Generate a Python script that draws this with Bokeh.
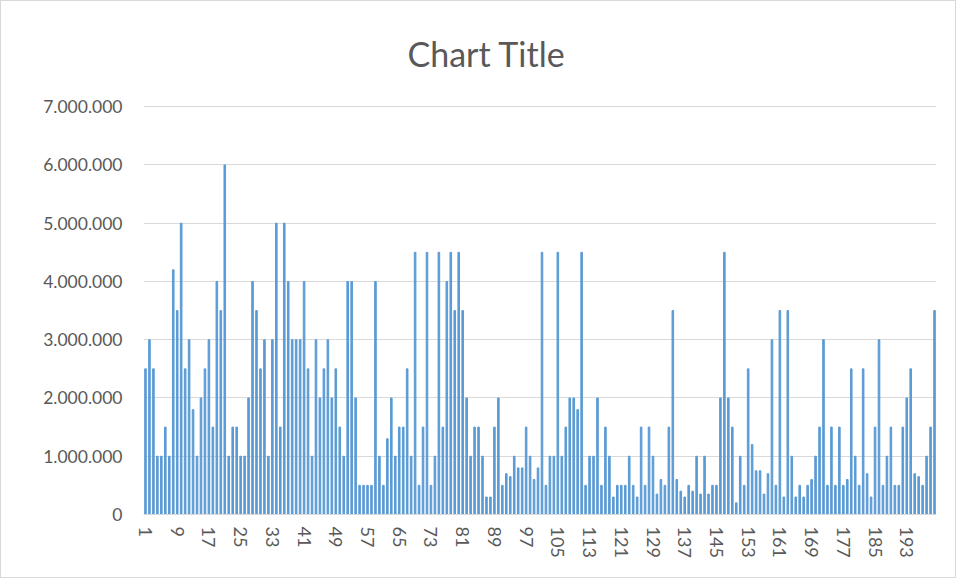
from bokeh.plotting import figure
from bokeh.models import ColumnDataSource, FixedTicker, Range1d
from bokeh.embed import file_html
from bokeh.resources import INLINE

# Category numbers 1..200
categories = list(range(1, 201))

# Values in millions
values_millions = [
    2.5, 3.0, 2.5, 1.0, 1.0, 1.5, 1.0, 4.2, 3.5, 5.0,
    2.5, 3.0, 1.8, 1.0, 2.0, 2.5, 3.0, 1.5, 4.0, 3.5,
    6.0, 1.0, 1.5, 1.5, 1.0, 1.0, 2.0, 4.0, 3.5, 2.5,
    3.0, 1.0, 3.0, 5.0, 1.5, 5.0, 4.0, 3.0, 3.0, 3.0,
    4.0, 2.5, 1.0, 3.0, 2.0, 2.5, 3.0, 2.0, 2.5, 1.5,
    1.0, 4.0, 4.0, 2.0, 0.5, 0.5, 0.5, 0.5, 4.0, 1.0,
    0.5, 1.3, 2.0, 1.0, 1.5, 1.5, 2.5, 1.0, 4.5, 0.5,
    1.5, 4.5, 0.5, 1.0, 4.5, 1.5, 4.0, 4.5, 3.5, 4.5,
    3.5, 2.0, 1.0, 1.5, 1.5, 1.0, 0.3, 0.3, 1.5, 2.0,
    0.5, 0.7, 0.65, 1.0, 0.8, 0.8, 1.5, 1.0, 0.6, 0.8,
    4.5, 0.5, 1.0, 1.0, 4.5, 1.0, 1.5, 2.0, 2.0, 1.8,
    4.5, 0.5, 1.0, 1.0, 2.0, 0.5, 1.5, 1.0, 0.3, 0.5,
    0.5, 0.5, 1.0, 0.5, 0.3, 1.5, 0.5, 1.5, 1.0, 0.35,
    0.6, 0.5, 1.5, 3.5, 0.6, 0.4, 0.3, 0.5, 0.4, 1.0,
    0.35, 1.0, 0.35, 0.5, 0.5, 2.0, 4.5, 2.0, 1.5, 0.2,
    1.0, 0.5, 2.5, 1.2, 0.75, 0.75, 0.35, 0.7, 3.0, 0.5,
    3.5, 0.3, 3.5, 1.0, 0.3, 0.5, 0.3, 0.5, 0.6, 1.0,
    1.5, 3.0, 0.5, 1.5, 0.5, 1.5, 0.5, 0.6, 2.5, 1.0,
    0.5, 2.5, 0.7, 0.3, 1.5, 3.0, 0.5, 1.0, 1.5, 0.5,
    0.5, 1.5, 2.0, 2.5, 0.7, 0.65, 0.5, 1.0, 1.5, 3.5,
]
values = [v * 1_000_000 for v in values_millions]

x_ticks = list(range(1, 200, 8))
y_ticks = [0, 1_000_000, 2_000_000, 3_000_000, 4_000_000, 5_000_000, 6_000_000, 7_000_000]
y_tick_labels = ["0", "1.000.000", "2.000.000", "3.000.000", "4.000.000",
                 "5.000.000", "6.000.000", "7.000.000"]

TEXT = "#595959"
GRID = "#d9d9d9"
BAR = "#5b9bd5"
FONT = "Lato"

src = ColumnDataSource(data=dict(x=categories, top=values))

p = figure(width=956, height=578,
           x_range=Range1d(0.5, 200.5), y_range=Range1d(0, 7_020_000),
           output_backend="svg", toolbar_location=None,
           min_border_left=142, min_border_right=21,
           min_border_top=104, min_border_bottom=65,
           background_fill_color="white", border_fill_color="white",
           styles={"border": "1px solid #d9d9d9"})

p.vbar(x="x", top="top", width=0.4, color=BAR, source=src)

p.title.text = "Chart Title"
p.title.align = "left"
p.title.offset = 264
p.title.vertical_align = "top"
p.title.standoff = 60
p.title.text_font = FONT
p.title.text_font_size = "34px"
p.title.text_font_style = "normal"
p.title.text_color = TEXT

p.outline_line_color = None
p.xgrid.grid_line_color = None
p.ygrid.grid_line_color = GRID
p.ygrid.grid_line_width = 1
p.yaxis.ticker = FixedTicker(ticks=y_ticks)
p.yaxis.major_label_overrides = {t: l for t, l in zip(y_ticks, y_tick_labels)}
p.yaxis.axis_line_color = None
p.yaxis.major_tick_line_color = None
p.yaxis.minor_tick_line_color = None
p.yaxis.major_tick_out = 0
p.yaxis.major_tick_in = 0
p.yaxis.major_label_standoff = 21
p.yaxis.major_label_text_font = FONT
p.yaxis.major_label_text_font_size = "17.5px"
p.yaxis.major_label_text_color = TEXT

p.xaxis.ticker = FixedTicker(ticks=x_ticks)
p.xaxis.axis_line_color = GRID
p.xaxis.major_tick_line_color = None
p.xaxis.minor_tick_line_color = None
p.xaxis.major_tick_out = 0
p.xaxis.major_tick_in = 0
p.xaxis.major_label_standoff = 12
p.xaxis.major_label_orientation = "vertical"
p.xaxis.major_label_text_font = FONT
p.xaxis.major_label_text_font_size = "18px"
p.xaxis.major_label_text_color = TEXT

open("out.html", "w").write(file_html(p, INLINE))
